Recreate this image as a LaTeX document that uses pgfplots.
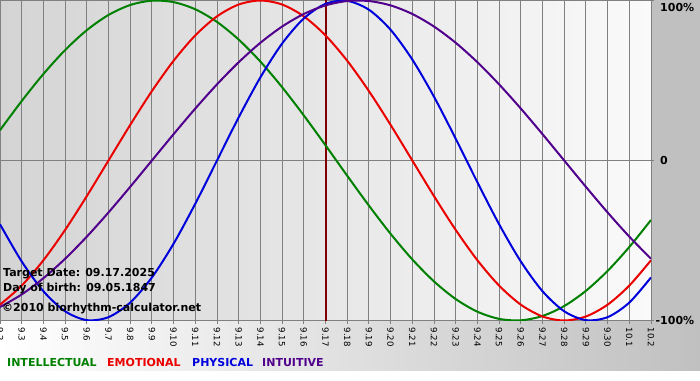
\documentclass[border=0pt]{standalone}
\usepackage{pgfplots}
\pgfplotsset{compat=1.18}
\usepackage{pgfplotstable}
\usepackage{fontspec}
\setmainfont{DejaVu Sans}
\definecolor{intel}{RGB}{0,128,0}
\definecolor{emo}{RGB}{235,0,0}
\definecolor{phys}{RGB}{0,0,220}
\definecolor{intu}{RGB}{80,0,140}
\definecolor{gridgray}{RGB}{128,128,128}
\definecolor{margin}{RGB}{192,192,192}
\definecolor{plotleft}{RGB}{212,212,212}
\definecolor{plotright}{RGB}{250,250,250}
\definecolor{target}{RGB}{128,0,0}

\pgfplotstableread{
d intel emo phys intu
0 0.1893 -0.9010 -0.3984 -0.9158
1 0.3717 -0.7818 -0.6310 -0.8372
2 0.5406 -0.6235 -0.8170 -0.7357
3 0.6901 -0.4339 -0.9423 -0.6142
4 0.8146 -0.2225 -0.9977 -0.4759
5 0.9096 0 -0.9791 -0.3247
6 0.9718 0.2225 -0.8879 -0.1646
7 0.9989 0.4339 -0.7308 0
8 0.9898 0.6235 -0.5196 0.1646
9 0.9450 0.7818 -0.2698 0.3247
10 0.8660 0.9010 0 0.4759
11 0.7557 0.9749 0.2698 0.6142
12 0.6182 1 0.5196 0.7357
13 0.4582 0.9749 0.7308 0.8372
14 0.2817 0.9010 0.8879 0.9158
15 0.0951 0.7818 0.9791 0.9694
16 -0.0951 0.6235 0.9977 0.9966
17 -0.2817 0.4339 0.9423 0.9966
18 -0.4582 0.2225 0.8170 0.9694
19 -0.6182 0 0.6310 0.9158
20 -0.7557 -0.2225 0.3984 0.8372
21 -0.8660 -0.4339 0.1362 0.7357
22 -0.9450 -0.6235 -0.1362 0.6142
23 -0.9898 -0.7818 -0.3984 0.4759
24 -0.9989 -0.9010 -0.6310 0.3247
25 -0.9718 -0.9749 -0.8170 0.1646
26 -0.9096 -1 -0.9423 0
27 -0.8146 -0.9749 -0.9977 -0.1646
28 -0.6901 -0.9010 -0.9791 -0.3247
29 -0.5406 -0.7818 -0.8879 -0.4759
30 -0.3717 -0.6235 -0.7308 -0.6142
}\bio

\begin{document}
\begin{tikzpicture}[x=1pt,y=1pt]
\useasboundingbox (0,0) rectangle (700,380);
\fill[white] (0,0) rectangle (700,380);
\shade[left color=white,right color=margin] (0,10) rectangle (700,59.5);
\fill[margin] (651,59.5) rectangle (700,380);
\shade[left color=plotleft,right color=plotright] (0,59.5) rectangle (651,379.5);
\begin{axis}[
  at={(0pt,59.5pt)}, anchor=south west,
  scale only axis, width=651pt, height=320pt,
  xmin=0, xmax=30, ymin=-1, ymax=1,
  axis line style={gridgray, line width=1pt},
  xtick={0,...,30},
  xticklabels={9.2,9.3,9.4,9.5,9.6,9.7,9.8,9.9,9.10,9.11,9.12,9.13,9.14,9.15,9.16,9.17,9.18,9.19,9.20,9.21,9.22,9.23,9.24,9.25,9.26,9.27,9.28,9.29,9.30,10.1,10.2},
  xtick pos=bottom,
  xticklabel style={rotate=-90, anchor=west, inner sep=0pt, font=\fontsize{8.6}{9}\selectfont},
  xticklabel shift=4pt,
  ytick={-1,0},
  yticklabels={\llap{-}100\%,0},
  extra y ticks={1},
  extra y tick labels={100\%},
  extra y tick style={yticklabel style={yshift=-7pt}},
  ytick pos=right,
  yticklabel pos=right,
  yticklabel style={anchor=west, inner sep=0pt, font=\bfseries\fontsize{11}{12}\selectfont},
  yticklabel shift=6pt,
  tick align=outside,
  major tick length=3pt,
  tick style={gridgray, line width=0.9pt},
  xmajorgrids, ymajorgrids,
  grid style={gridgray, line width=0.9pt},
]
\addplot[target, line width=2pt] coordinates {(15,-1) (15,1)};
\addplot[intel, line width=2pt, smooth] table[x=d, y=intel] {\bio};
\addplot[emo, line width=2pt, smooth] table[x=d, y=emo] {\bio};
\addplot[phys, line width=2pt, smooth] table[x=d, y=phys] {\bio};
\addplot[intu, line width=2pt, smooth] table[x=d, y=intu] {\bio};
\end{axis}
\begin{scope}[every node/.style={anchor=base west, inner sep=0pt, font=\bfseries\fontsize{11}{12}\selectfont}]
\node at (3,103) {Target Date: 09.17.2025};
\node at (3,89) {Day of birth: 09.05.1847};
\node at (2,69) {©2010 biorhythm-calculator.net};
\node[text=intel] at (7,14) {INTELLECTUAL};
\node[text=emo] at (107,14) {EMOTIONAL};
\node[text=phys] at (192,14) {PHYSICAL};
\node[text=intu] at (262,14) {INTUITIVE};
\end{scope}
\end{tikzpicture}
\end{document}
